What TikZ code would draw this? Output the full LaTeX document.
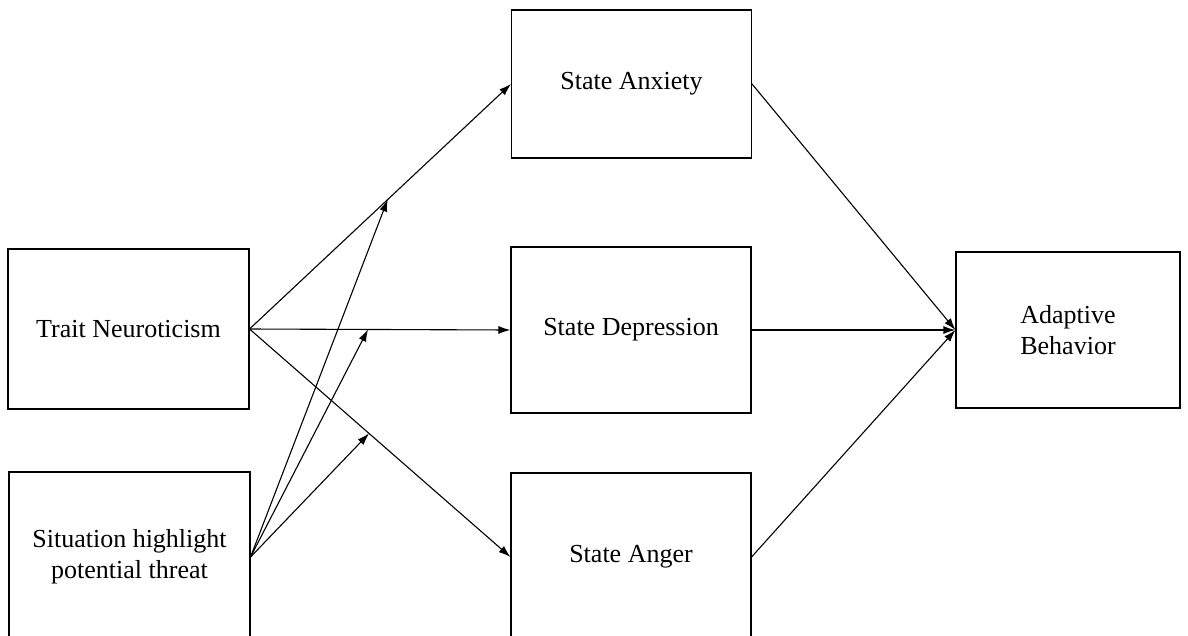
\documentclass[tikz,border=0pt]{standalone}
\usepackage{fontspec}
\setmainfont{Liberation Serif}
\usetikzlibrary{arrows.meta}
\begin{document}
\begin{tikzpicture}[x=1pt,y=-1pt,
  box/.style={draw, line width=1.1pt, inner sep=0pt, align=center, font=\fontsize{26}{31}\selectfont},
  arr/.style={line width=1.1pt, -{Latex[length=12pt,width=8pt]}}]
\useasboundingbox (0,0) rectangle (1188,635);
\clip (0,0) rectangle (1188,635);
\fill[white] (0,0) rectangle (1188,635);
\node[box, minimum width=241pt, minimum height=160pt] (trait) at (128.5,329) {Trait Neuroticism};
\node[box, minimum width=241pt, minimum height=170pt] (sit) at (129.5,557) {Situation highlight\\potential threat};
\node[box, minimum width=240pt, minimum height=148pt] (anx) at (631.5,84) {State Anxiety};
\node[box, minimum width=240pt, minimum height=166pt] (dep) at (631,330) {State Depression};
\node[box, minimum width=240pt, minimum height=168pt] (ang) at (631,557) {State Anger};
\node[box, minimum width=224pt, minimum height=156pt] (ada) at (1068,330) {Adaptive\\Behavior};
\draw[arr] (trait.east) -- (anx.west) coordinate[pos=0.5285] (m1);
\draw[arr] (trait.east) -- (dep.west) coordinate[pos=0.454] (m2);
\draw[arr] (trait.east) -- (ang.west) coordinate[pos=0.458] (m3);
\draw[arr] (sit.east) -- (m1);
\draw[arr] (sit.east) -- (m2);
\draw[arr] (sit.east) -- (m3);
\draw[arr] (anx.east) -- (ada.west);
\draw[arr] (dep.east) -- (ada.west);
\draw[arr] (ang.east) -- (ada.west);
\end{tikzpicture}
\end{document}
